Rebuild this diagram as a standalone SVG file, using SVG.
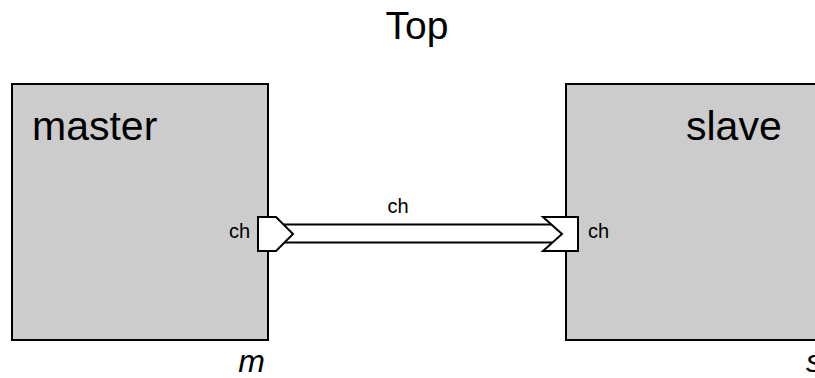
<svg xmlns="http://www.w3.org/2000/svg" width="815" height="378" viewBox="0 0 815 378">
<style>
text{font-family:"Liberation Sans",Arial,sans-serif;fill:#000}
.box{fill:#cccccc;stroke:#000;stroke-width:2}
.port{fill:#fff;stroke:#000;stroke-width:2;stroke-linejoin:miter}
.big{font-size:41px}
.pl{font-size:20px}
.inst{font-size:32px;font-style:italic}
</style>
<rect width="815" height="378" fill="#fff"/>
<text x="417" y="39" font-size="39" text-anchor="middle">Top</text>
<g id="connectors">
<line x1="282" y1="233.5" x2="560" y2="233.5" stroke="#000" stroke-width="20"/>
<line x1="282" y1="233.5" x2="560" y2="233.5" stroke="#fff" stroke-width="16"/>
<text class="pl" x="398" y="213" text-anchor="middle">ch</text>
</g>
<g id="master">
<rect class="box" x="12" y="84" width="256" height="256"/>
<text class="big" x="32" y="140">master</text>
<polygon class="port" points="258,217 276,217 293,234 276,251 258,251"/>
<text class="pl" x="250" y="238" text-anchor="end">ch</text>
<text class="inst" x="265" y="372" text-anchor="end">m</text>
</g>
<g id="slave">
<rect class="box" x="566" y="84" width="256" height="256"/>
<text class="big" x="686" y="140">slave</text>
<polygon class="port" points="543,217 578,217 578,251 543,251 562,234"/>
<text class="pl" x="588" y="238">ch</text>
<text class="inst" x="822" y="372" text-anchor="end">s</text>
</g>
</svg>
